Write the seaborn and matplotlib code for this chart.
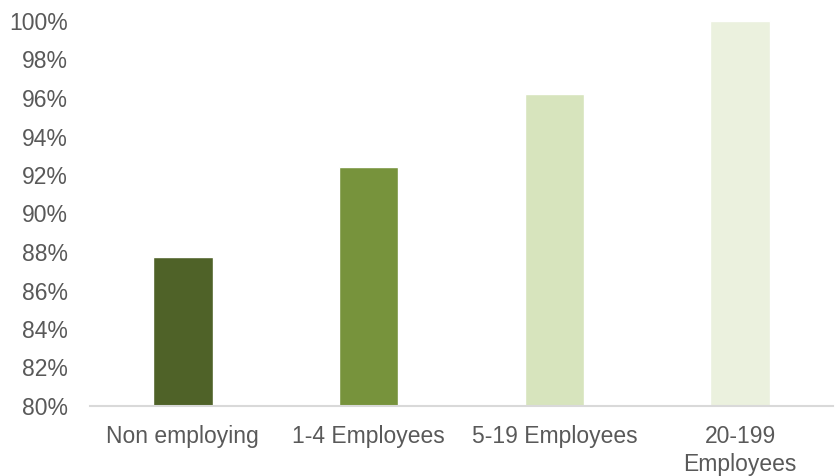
import matplotlib
matplotlib.use("Agg")
import matplotlib.pyplot as plt
import seaborn as sns
import pandas as pd
from matplotlib.ticker import FuncFormatter, MultipleLocator

categories = ["Non employing", "1-4 Employees", "5-19 Employees", "20-199\nEmployees"]
values = [87.75, 92.4, 96.2, 100.0]
colors = ["#4F6228", "#77933C", "#D7E4BD", "#EBF1DE"]

df = pd.DataFrame({"size": categories, "share": values})

sns.set_theme(style="white")
plt.rcParams["font.family"] = ["Liberation Sans", "DejaVu Sans"]

fig = plt.figure(figsize=(8.35, 4.76), dpi=100)
ax = fig.add_axes([90 / 835, 1 - 406 / 476, 743 / 835, 385 / 476])

sns.barplot(data=df, x="size", y="share", hue="size", palette=colors,
            width=0.32, legend=False, ax=ax, saturation=1)

ax.set_ylim(80, 100)
ax.set_xlim(-0.5, 3.5)
ax.yaxis.set_major_locator(MultipleLocator(2))
ax.yaxis.set_major_formatter(FuncFormatter(lambda v, _: f"{v:.0f}%"))
ax.set_xlabel("")
ax.set_ylabel("")

for s in ["top", "right", "left"]:
    ax.spines[s].set_visible(False)
ax.spines["bottom"].set_color("#D9D9D9")
ax.spines["bottom"].set_linewidth(1.5)

ax.tick_params(axis="y", length=0, pad=16, labelsize=16.5, labelcolor="#595959")
ax.tick_params(axis="x", length=0, pad=14, labelsize=16.5, labelcolor="#595959")
for lbl in ax.get_xticklabels():
    lbl.set_linespacing(1.25)

fig.savefig("out.png", dpi=100, facecolor="white")
